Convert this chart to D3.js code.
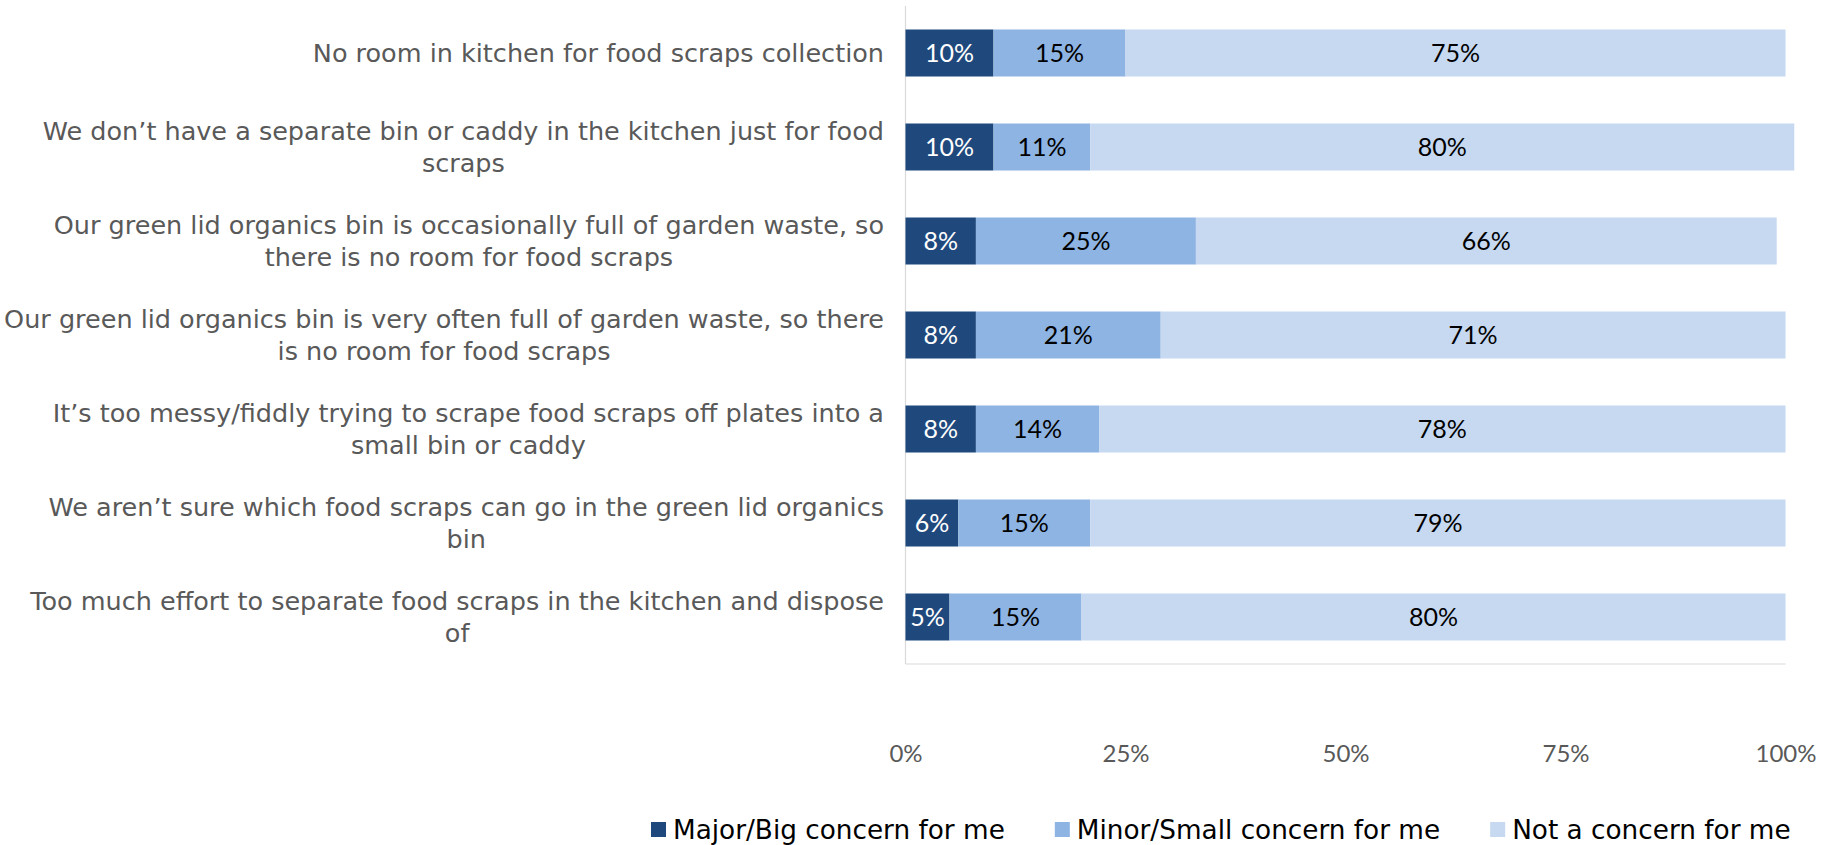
<!DOCTYPE html>
<html>
<head>
<meta charset="utf-8">
<script src="https://cdn.jsdelivr.net/npm/d3@7"></script>
<style>
  html, body { margin: 0; padding: 0; background: #ffffff; }
  svg { display: block; font-family: Lato, "Noto Sans", sans-serif; }
</style>
</head>
<body>
<svg id="chart" width="1831" height="845"></svg>
<script>
// Survey statements (line breaks mark where each label wraps)
const categories = [
  "No room in kitchen for food scraps collection",
  "We don\u2019t have a separate bin or caddy in the kitchen just for food\nscraps",
  "Our green lid organics bin is occasionally full of garden waste, so\nthere is no room for food scraps",
  "Our green lid organics bin is very often full of garden waste, so there\nis no room for food scraps",
  "It\u2019s too messy/fiddly trying to scrape food scraps off plates into a\nsmall bin or caddy",
  "We aren\u2019t sure which food scraps can go in the green lid organics\nbin",
  "Too much effort to separate food scraps in the kitchen and dispose\nof"
];

// Share of respondents (%) per answer
const majorConcern = [10, 10, 8, 8, 8, 6, 5];
const minorConcern = [15, 11, 25, 21, 14, 15, 15];
const notConcern   = [75, 80, 66, 71, 78, 79, 80];

const seriesNames = ["Major/Big concern for me", "Minor/Small concern for me", "Not a concern for me"];
const seriesKeys  = ["major", "minor", "none"];
const seriesColors = ["#1F497D", "#8EB4E3", "#C6D9F1"];
const labelColors  = ["#ffffff", "#000000", "#000000"];

const xTickValues = [0, 25, 50, 75, 100];

// Table for d3.stack
const table = categories.map((c, i) => ({
  category: c,
  major: majorConcern[i],
  minor: minorConcern[i],
  none: notConcern[i]
}));

const svg = d3.select("#chart");
const wideFont = "'DejaVu Sans', Lato, sans-serif";

const plot = { left: 905.5, right: 1785.5, top: 6, bottom: 664 };

const x = d3.scaleLinear().domain([0, 100]).range([plot.left, plot.right]);
const y = d3.scaleBand()
  .domain(categories)
  .range([plot.top, plot.bottom])
  .paddingInner(0.5)
  .paddingOuter(0.25);

const stacked = d3.stack().keys(seriesKeys)(table);

// Axis lines (left and bottom)
svg.append("line")
  .attr("x1", plot.left).attr("x2", plot.left)
  .attr("y1", plot.top).attr("y2", plot.bottom)
  .attr("stroke", "#d9d9d9").attr("stroke-width", 1.2);
svg.append("line")
  .attr("x1", plot.left).attr("x2", plot.right)
  .attr("y1", plot.bottom).attr("y2", plot.bottom)
  .attr("stroke", "#d9d9d9").attr("stroke-width", 1.2);

// Stacked bars
const layers = svg.append("g").selectAll("g")
  .data(stacked)
  .join("g")
  .attr("fill", (d, i) => seriesColors[i]);

layers.selectAll("rect")
  .data(d => d.map(v => ({ v, cat: v.data.category })))
  .join("rect")
  .attr("x", d => x(d.v[0]))
  .attr("width", d => x(d.v[1]) - x(d.v[0]))
  .attr("y", d => y(d.cat))
  .attr("height", y.bandwidth());

// Value labels centred in each segment
const valueLabels = svg.append("g")
  .attr("font-size", 25)
  .attr("text-anchor", "middle");
stacked.forEach((layer, si) => {
  valueLabels.selectAll(null)
    .data(layer)
    .join("text")
    .attr("x", d => (x(d[0]) + x(d[1])) / 2)
    .attr("y", d => y(d.data.category) + y.bandwidth() / 2)
    .attr("dy", "0.36em")
    .attr("fill", labelColors[si])
    .text(d => d3.format("d")(d[1] - d[0]) + "%");
});

// Category labels: block right-aligned, lines centred within the block
const catGroup = svg.append("g")
  .attr("font-family", wideFont)
  .attr("font-size", 25.5)
  .attr("fill", "#595959");
const labelRight = 884;
const lineHeight = 31.5;
categories.forEach(c => {
  const lines = c.split("\n");
  const g = catGroup.append("g");
  const texts = lines.map((ln, li) => g.append("text")
    .attr("text-anchor", "middle")
    .attr("y", y(c) + y.bandwidth() / 2 + (li - (lines.length - 1) / 2) * lineHeight)
    .attr("dy", "0.36em")
    .text(ln));
  const blockW = d3.max(texts, t => t.node().getComputedTextLength());
  texts.forEach(t => t.attr("x", labelRight - blockW / 2));
});

// Bottom tick labels
const xAxis = d3.axisBottom(x)
  .tickValues(xTickValues)
  .tickFormat(d => d + "%")
  .tickSize(0)
  .tickPadding(0);
const axisG = svg.append("g")
  .attr("transform", "translate(0,745)")
  .call(xAxis);
axisG.select(".domain").remove();
axisG.selectAll("text")
  .attr("font-family", "Lato, 'Noto Sans', sans-serif")
  .attr("font-size", 24)
  .attr("fill", "#595959");

// Legend
const legend = svg.append("g")
  .attr("font-family", wideFont)
  .attr("font-size", 26.3)
  .attr("fill", "#000000");
let lx = 651;
seriesNames.forEach((name, i) => {
  legend.append("rect")
    .attr("x", lx).attr("y", 822)
    .attr("width", 15).attr("height", 15)
    .attr("fill", seriesColors[i]);
  const t = legend.append("text")
    .attr("x", lx + 22)
    .attr("y", 830)
    .attr("dy", "0.36em")
    .text(name);
  lx += 22 + t.node().getComputedTextLength() + 50;
});
</script>
</body>
</html>
